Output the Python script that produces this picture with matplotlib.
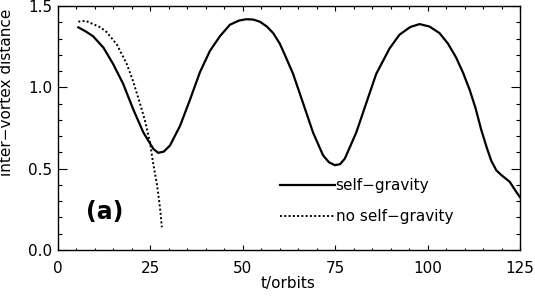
import matplotlib
matplotlib.use("Agg")
import matplotlib.pyplot as plt
from matplotlib.ticker import MultipleLocator

# self-gravity run
t_sg = [5.5, 7.5, 9.5, 12.3, 14.9, 17.6, 20.4, 23.1, 25.8, 27.1, 28.6, 30.3, 33.0, 35.7,
        38.4, 41.1, 43.8, 46.5, 49.0, 51.0, 52.8, 54.6, 56.5, 58.2, 60.0, 60.9, 63.6, 66.3,
        69.0, 71.7, 73.3, 74.9, 76.3, 77.6, 80.7, 83.4, 86.1, 89.7, 92.4, 95.3, 97.8, 100.5,
        103.2, 105.5, 107.7, 109.6, 111.4, 113.0, 114.5, 116.0, 117.2, 118.6, 120.0, 122.2,
        124.2, 125.0]
d_sg = [1.37, 1.345, 1.315, 1.245, 1.145, 1.024, 0.863, 0.723, 0.622, 0.598, 0.605, 0.643,
        0.763, 0.924, 1.094, 1.225, 1.315, 1.386, 1.412, 1.42, 1.418, 1.405, 1.375, 1.335,
        1.27, 1.225, 1.084, 0.904, 0.723, 0.583, 0.54, 0.522, 0.528, 0.562, 0.723, 0.904,
        1.084, 1.240, 1.325, 1.372, 1.39, 1.375, 1.335, 1.27, 1.185, 1.09, 0.984, 0.87,
        0.74, 0.63, 0.55, 0.49, 0.46, 0.42, 0.35, 0.325]

# no self-gravity run
t_nsg = [5.5, 7.5, 9.5, 11.5, 13.2, 15.9, 18.6, 20.3, 22.2, 23.5, 24.9, 25.7, 26.8, 27.6,
         28.1]
d_nsg = [1.405, 1.41, 1.39, 1.37, 1.34, 1.265, 1.145, 1.04, 0.90, 0.80, 0.66, 0.54, 0.40,
         0.26, 0.14]

xticks = [0, 25, 50, 75, 100, 125]
yticks = [0.0, 0.5, 1.0, 1.5]

plt.rcParams['font.family'] = ['DejaVu Sans']
fig = plt.figure(figsize=(5.35, 2.96), dpi=100)
ax = fig.add_axes([0.1084, 0.1554, 0.8636, 0.8236])

ax.plot(t_sg, d_sg, color='black', lw=1.6, label='self\u2212gravity',
        solid_joinstyle='round')
ax.plot(t_nsg, d_nsg, color='black', lw=1.4, linestyle=(0, (1, 1.2)),
        label='no self\u2212gravity')

ax.set_xlim(0, 125)
ax.set_ylim(0, 1.5)
ax.set_xticks(xticks)
ax.set_xticklabels([str(v) for v in xticks])
ax.set_yticks(yticks)
ax.set_yticklabels([f"{v:.1f}" for v in yticks])
ax.xaxis.set_minor_locator(MultipleLocator(5))
ax.yaxis.set_minor_locator(MultipleLocator(0.1))

ax.tick_params(axis='both', which='both', direction='in', top=True, right=True,
               labelsize=11, width=0.8, color='black')
ax.tick_params(axis='x', which='major', length=3.6, pad=8)
ax.tick_params(axis='x', which='minor', length=1.8)
ax.tick_params(axis='y', which='major', length=6.5, pad=4)
ax.tick_params(axis='y', which='minor', length=3.2)
for s in ax.spines.values():
    s.set_linewidth(1.0)

ax.set_xlabel('t/orbits', fontsize=11)
ax.xaxis.set_label_coords(0.498, -0.105)
ax.set_ylabel('inter\u2212vortex distance', fontsize=11)
ax.yaxis.set_label_coords(-0.095, 0.645)

ax.text(0.102, 0.155, '(a)', transform=ax.transAxes, fontsize=17, fontweight='bold',
        ha='center', va='center')

ax.legend(loc='center left', bbox_to_anchor=(0.48, 0.2), frameon=False, fontsize=11,
          handlelength=3.6, handletextpad=0.05, labelspacing=1.05, borderpad=0,
          borderaxespad=0)

fig.savefig('out.png', dpi=100)
